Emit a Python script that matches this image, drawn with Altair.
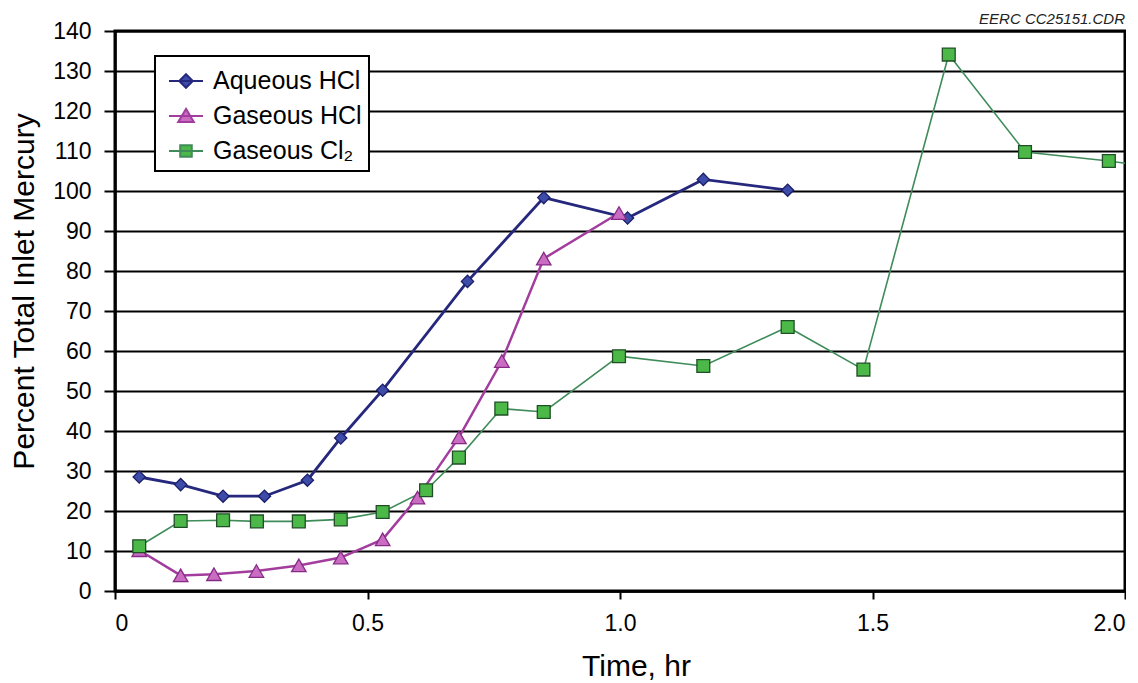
import altair as alt
import pandas as pd

# ---- data ----
series_names = ["Aqueous HCl", "Gaseous HCl", "Gaseous Cl\u2082"]

aq_time = [0.048, 0.130, 0.214, 0.296, 0.381, 0.447, 0.530, 0.698, 0.849, 1.015, 1.165, 1.332]
aq_pct = [28.5, 26.6, 23.7, 23.7, 27.7, 38.25, 50.2, 77.4, 98.35, 93.25, 102.9, 100.2]

ghcl_time = [0.048, 0.130, 0.196, 0.280, 0.364, 0.447, 0.530, 0.599, 0.681, 0.766, 0.849, 0.998]
ghcl_pct = [10.2, 3.9, 4.2, 5.0, 6.4, 8.35, 12.9, 23.35, 38.4, 57.5, 83.1, 94.5]

cl2_time = [0.048, 0.130, 0.214, 0.281, 0.364, 0.447, 0.530, 0.616, 0.681, 0.765, 0.849,
            0.998, 1.165, 1.332, 1.482, 1.651, 1.802, 1.968, 2.1]
cl2_pct = [11.2, 17.5, 17.7, 17.4, 17.4, 17.9, 19.75, 25.2, 33.35, 45.6, 44.75,
           58.7, 56.25, 66.0, 55.35, 134.1, 109.75, 107.5, 105.2]

x_ticks = [0, 0.5, 1.0, 1.5, 2.0]
y_ticks = list(range(0, 141, 10))

line_colors = ["#25287c", "#a23d9e", "#3f8c5a"]
line_widths = [2.8, 2.5, 1.6]
marker_fill = ["#3d4ba9", "#c96cc2", "#4bb848"]
marker_edge = ["#1b1e68", "#862a86", "#1f4f25"]
marker_shape = ["diamond", "triangle-up", "square"]
marker_size = [150, 210, 165]
legend_paths = [
    "M-1,0L1,0M0,-0.4L0.4,0L0,0.4L-0.4,0Z",
    "M-1,0L1,0M0,-0.42L0.46,0.36L-0.46,0.36Z",
    "M-1,0L1,0M-0.34,-0.34L0.34,-0.34L0.34,0.34L-0.34,0.34Z",
]

rows = []
for name, ts, vs in [(series_names[0], aq_time, aq_pct),
                     (series_names[1], ghcl_time, ghcl_pct),
                     (series_names[2], cl2_time, cl2_pct)]:
    for t, v in zip(ts, vs):
        rows.append({"series": name, "time": t, "pct": v})
df = pd.DataFrame(rows)

FONT = "Liberation Sans"

x_enc = alt.X("time:Q",
              scale=alt.Scale(domain=[0, 2], nice=False),
              axis=alt.Axis(values=x_ticks, grid=False, title="Time, hr",
                            labelExpr="datum.value == 0 ? '0' : format(datum.value, '.1f')",
                            labelFontSize=23, labelPadding=13, tickSize=8,
                            titleFontSize=30, titleFontWeight="normal",
                            titleX=521, titleY=84, titleAlign="center",
                            titleBaseline="alphabetic"))
y_enc = alt.Y("pct:Q",
              scale=alt.Scale(domain=[0, 140], nice=False),
              axis=alt.Axis(values=y_ticks, grid=True, title="Percent Total Inlet Mercury",
                            labelFontSize=23, labelPadding=13, tickSize=11,
                            titleFontSize=30, titleFontWeight="normal",
                            titleX=-91, titleY=260, titleAngle=-90,
                            titleAlign="center", titleBaseline="middle"))

base = alt.Chart(df)

line_layers = []
point_layers = []
for i, name in enumerate(series_names):
    sub = base.transform_filter(alt.datum.series == name)
    line_layers.append(
        sub.mark_line(color=line_colors[i], strokeWidth=line_widths[i], clip=True)
        .encode(x=x_enc, y=y_enc)
    )
    point_layers.append(
        sub.mark_point(
            filled=True, opacity=1, shape=marker_shape[i], size=marker_size[i],
            fill=marker_fill[i], stroke=marker_edge[i], strokeWidth=1.3, clip=True,
        ).encode(x=x_enc, y=y_enc)
    )

legend = alt.Legend(
    title=None, orient="none", legendX=40, legendY=25,
    labelFontSize=25, labelFont=FONT, labelColor="black", labelOffset=9,
    symbolSize=1156, rowPadding=4, padding=7, symbolOffset=6,
    symbolStrokeWidth=2, symbolOpacity=1,
    strokeColor="black", fillColor="white",
)

legend_layer = base.mark_point(filled=True, opacity=0, clip=True).encode(
    x=x_enc, y=y_enc,
    shape=alt.Shape("series:N", scale=alt.Scale(domain=series_names, range=legend_paths),
                    legend=legend),
    fill=alt.Fill("series:N", scale=alt.Scale(domain=series_names, range=marker_fill),
                  legend=legend),
    stroke=alt.Stroke("series:N", scale=alt.Scale(domain=series_names, range=line_colors),
                      legend=legend),
)

chart = alt.layer(*line_layers, *point_layers, legend_layer).properties(
    width=1010, height=560,
    padding={"left": 0, "top": 4, "right": 0, "bottom": 0},
    title=alt.TitleParams("EERC CC25151.CDR", anchor="end", fontSize=15, fontStyle="italic",
                          fontWeight="normal", font=FONT, color="#222222", offset=-19,
                          frame="group", baseline="alphabetic"),
).configure(
    font=FONT,
).configure_view(
    stroke="black", strokeWidth=3,
).configure_axis(
    labelFont=FONT, titleFont=FONT, labelColor="black", titleColor="black",
    domainColor="black", domainWidth=2.5, tickColor="black", tickWidth=2,
    gridColor="black", gridWidth=1.8, gridOpacity=1,
).configure_legend(
    strokeWidth=2,
)

chart.save("out.html", embed_options={"renderer": "svg", "actions": False})
